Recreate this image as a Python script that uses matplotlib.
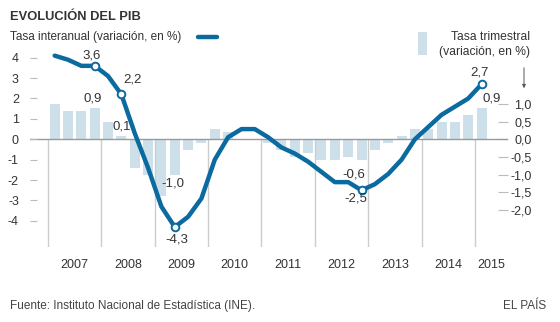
import numpy as np
import matplotlib
matplotlib.use("Agg")
import matplotlib.pyplot as plt

plt.rcParams['font.family'] = ['Liberation Sans', 'DejaVu Sans']

# Datos trimestrales 2007T1 - 2015T1
anios = ['2007', '2008', '2009', '2010', '2011', '2012', '2013', '2014', '2015']
interanual = [4.1, 3.9, 3.6, 3.6, 3.1, 2.2, 0.3, -1.4,
              -3.3, -4.3, -3.8, -2.9, -1.0, 0.1, 0.5, 0.5,
              0.1, -0.4, -0.7, -1.1, -1.6, -2.1, -2.1, -2.5,
              -2.2, -1.7, -1.0, 0.0, 0.6, 1.2, 1.6, 2.0,
              2.7]
trimestral = [1.0, 0.8, 0.8, 0.9, 0.5, 0.1, -0.8, -1.0,
              -1.6, -1.0, -0.3, -0.1, 0.3, 0.2, 0.0, 0.0,
              -0.1, -0.3, -0.5, -0.4, -0.6, -0.6, -0.5, -0.6,
              -0.3, -0.1, 0.1, 0.3, 0.3, 0.5, 0.5, 0.7,
              0.9]
destacados = [3, 5, 9, 23, 32]
ticks_izq = [-4, -3, -2, -1, 0, 1, 2, 3, 4]
ticks_der = [-2.0, -1.5, -1.0, -0.5, 0.0, 0.5, 1.0]

AZUL = '#0b6a9f'
CELESTE = '#cde0ea'
TEXTO = '#333333'

def coma(v, dec=1):
    s = f"{v:.{dec}f}".replace('.', ',')
    return s

x = np.arange(len(interanual))

fig = plt.figure(figsize=(5.6, 3.22), dpi=100)
ax = fig.add_axes([30/560, 75/322, 478/560, 199/322])
ax2 = ax.twinx()
ax.set_zorder(ax2.get_zorder() + 1)
ax.patch.set_visible(False)

ax.set_xlim(-1.85, 33.98)
ax.set_ylim(-5.28, 4.475)
ax2.set_ylim(-3.051, 2.586)

# barras: tasa trimestral (eje derecho)
ax2.bar(x, trimestral, width=0.75, color=CELESTE, zorder=1)

# separadores de año y línea de cero
for k in range(len(anios)):
    ax.vlines(-0.5 + 4 * k, -5.28, 0, color='#cccccc', lw=1, zorder=0)
ax.axhline(0, color='#999999', lw=1, zorder=1)

# línea: tasa interanual (eje izquierdo)
ax.plot(x, interanual, color=AZUL, lw=3.2, solid_joinstyle='round',
        solid_capstyle='round', zorder=3)
ax.plot([x[i] for i in destacados], [interanual[i] for i in destacados],
        'o', ms=5.5, mfc='white', mec=AZUL, mew=1.4, zorder=4)

# etiquetas de valor
off_linea = {3: (-3, 10), 5: (11, 15), 9: (2, -12), 23: (-6, -8), 32: (-2, 12)}
off_barra = {3: (-2, 9), 5: (0, 9), 9: (-2, -9), 23: (-8, -14), 32: (10, 9)}
for i in destacados:
    ax.annotate(coma(interanual[i]), (x[i], interanual[i]),
                xytext=off_linea[i], textcoords='offset pixels',
                ha='center', va='center', fontsize=9.5, color=TEXTO, zorder=5)
    ax2.annotate(coma(trimestral[i]), (x[i], trimestral[i]),
                 xytext=off_barra[i], textcoords='offset pixels',
                 ha='center', va='center', fontsize=9.5, color=TEXTO)

for a in (ax, ax2):
    for s in a.spines.values():
        s.set_visible(False)

ax.set_yticks(ticks_izq)
ax.set_yticklabels([str(t) for t in ticks_izq])
ax.tick_params(axis='y', direction='in', length=5, width=0.8, color='#bbbbbb',
               pad=8, labelsize=9, labelcolor=TEXTO)

ax2.set_yticks(ticks_der)
ax2.set_yticklabels([coma(t) for t in ticks_der])
ax2.tick_params(axis='y', direction='in', length=7.2, width=0.8, color='#bbbbbb',
                pad=17, labelsize=9, labelcolor=TEXTO)
for lab in ax2.get_yticklabels():
    lab.set_ha('right')

centros = [4 * k + 1.5 for k in range(len(anios) - 1)] + [32.75]
ax.set_xticks(centros)
ax.set_xticklabels(anios)
ax.tick_params(axis='x', length=0, pad=9, labelsize=9, labelcolor=TEXTO)
ax2.tick_params(axis='x', length=0)

# cabecera y leyendas
fig.text(10/560, 1 - 17/322, 'EVOLUCIÓN DEL PIB', fontsize=9.3, fontweight='bold',
         color=TEXTO, va='center', ha='left')
fig.text(10/560, 1 - 37/322, 'Tasa interanual (variación, en %)', fontsize=8.5,
         color=TEXTO, va='center', ha='left')
fig.add_artist(plt.Line2D([198/560, 217/560], [1 - 36.5/322, 1 - 36.5/322],
                          color=AZUL, lw=3.2, solid_capstyle='round'))
fig.add_artist(plt.Rectangle((418/560, 1 - 55/322), 9/560, 23/322,
                             color=CELESTE, lw=0))
fig.text(530/560, 1 - 37/322, 'Tasa trimestral', fontsize=8.7,
         color=TEXTO, va='center', ha='right')
fig.text(530/560, 1 - 52/322, '(variación, en %)', fontsize=8.7,
         color=TEXTO, va='center', ha='right')
fig.add_artist(matplotlib.patches.FancyArrowPatch(
    (524/560, 1 - 65/322), (524/560, 1 - 91/322), transform=fig.transFigure,
    arrowstyle='-|>', mutation_scale=5, color='#555555', lw=0.7))

fig.text(10/560, 1 - 306/322, 'Fuente: Instituto Nacional de Estadística (INE).',
         fontsize=8.5, color='#444444', va='center', ha='left')
fig.text(546/560, 1 - 306/322, 'EL PAÍS', fontsize=8.5, color='#444444',
         va='center', ha='right')

fig.savefig('out.png', dpi=100)
